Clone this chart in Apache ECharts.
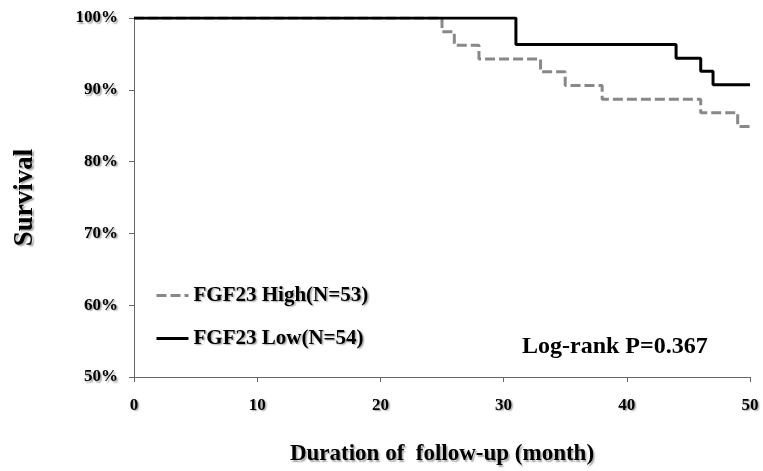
<!DOCTYPE html>
<html>
<head>
<meta charset="utf-8">
<script src="https://cdn.jsdelivr.net/npm/echarts@6/dist/echarts.min.js"></script>
<style>
html, body { margin: 0; padding: 0; background: #fff; }
#chart { width: 763px; height: 471px; }
</style>
</head>
<body>
<div id="chart"></div>
<script>
// 随访月份与生存率（%）
const highMonths = [0, 25, 26, 28, 33, 35, 38, 46, 49, 50]
const highSurvival = [100, 98.1, 96.2, 94.3, 92.5, 90.6, 88.7, 86.8, 84.9, 84.9]
const lowMonths = [0, 31, 44, 46, 47, 50]
const lowSurvival = [100, 96.3, 94.4, 92.6, 90.7, 90.7]
const seriesNames = ['FGF23 High(N=53)', 'FGF23 Low(N=54)']
const pText = 'Log-rank P=0.367'

const font = '"Liberation Serif", "Times New Roman", serif'
const shadow = { textShadowColor: 'rgba(0,0,0,0.35)', textShadowOffsetX: 1.5, textShadowOffsetY: 1.5, textShadowBlur: 1.5 }

const pairs = (xs, ys) => xs.map((x, i) => [x, ys[i]])

const myChart = echarts.init(document.getElementById('chart'))
const option = {
  animation: false,
  backgroundColor: '#fff',
  grid: { left: 134, right: 13, top: 18, bottom: 94 },
  legend: {
    orient: 'vertical',
    left: 150,
    top: 280,
    itemWidth: 32,
    itemHeight: 14,
    itemGap: 22,
    data: seriesNames,
    itemStyle: { opacity: 0 },
    lineStyle: { width: 3 },
    textStyle: Object.assign({ fontFamily: font, fontWeight: 'bold', fontSize: 21, color: '#000' }, shadow)
  },
  xAxis: {
    type: 'value',
    min: 0, max: 50, interval: 10,
    name: 'Duration of  follow-up (month)',
    nameLocation: 'middle',
    nameGap: 66,
    nameTextStyle: Object.assign({ fontFamily: font, fontWeight: 'bold', fontSize: 23, color: '#000' }, shadow),
    axisLine: { lineStyle: { color: '#666', width: 1 } },
    axisTick: { show: true, length: 5, lineStyle: { color: '#666' } },
    axisLabel: Object.assign({ margin: 20, fontFamily: font, fontWeight: 'bold', fontSize: 17, color: '#000' }, shadow),
    splitLine: { show: false }
  },
  yAxis: {
    type: 'value',
    min: 50, max: 100, interval: 10,
    name: 'Survival',
    nameLocation: 'middle',
    nameGap: 95,
    nameRotate: 90,
    nameTextStyle: Object.assign({ fontFamily: font, fontWeight: 'bold', fontSize: 27, color: '#000' }, shadow),
    axisLine: { show: true, lineStyle: { color: '#666', width: 1 } },
    axisTick: { show: true, length: 5, lineStyle: { color: '#666' } },
    axisLabel: Object.assign({ margin: 16, fontFamily: font, fontWeight: 'bold', fontSize: 17, color: '#000', formatter: v => v + '%' }, shadow),
    splitLine: { show: false }
  },
  graphic: [{
    type: 'text',
    left: 522,
    top: 335,
    style: { text: pText, font: 'bold 24px ' + font, fill: '#000' }
  }],
  series: [
    {
      name: seriesNames[0],
      type: 'line',
      step: 'end',
      symbol: 'none',
      color: '#888',
      lineStyle: { color: '#888', width: 3, type: [10, 4] },
      data: pairs(highMonths, highSurvival)
    },
    {
      name: seriesNames[1],
      type: 'line',
      step: 'end',
      symbol: 'none',
      color: '#000',
      lineStyle: { color: '#000', width: 3 },
      data: pairs(lowMonths, lowSurvival)
    }
  ]
}
myChart.setOption(option)
window.addEventListener('resize', function () {
  myChart.resize()
})
</script>
</body>
</html>
